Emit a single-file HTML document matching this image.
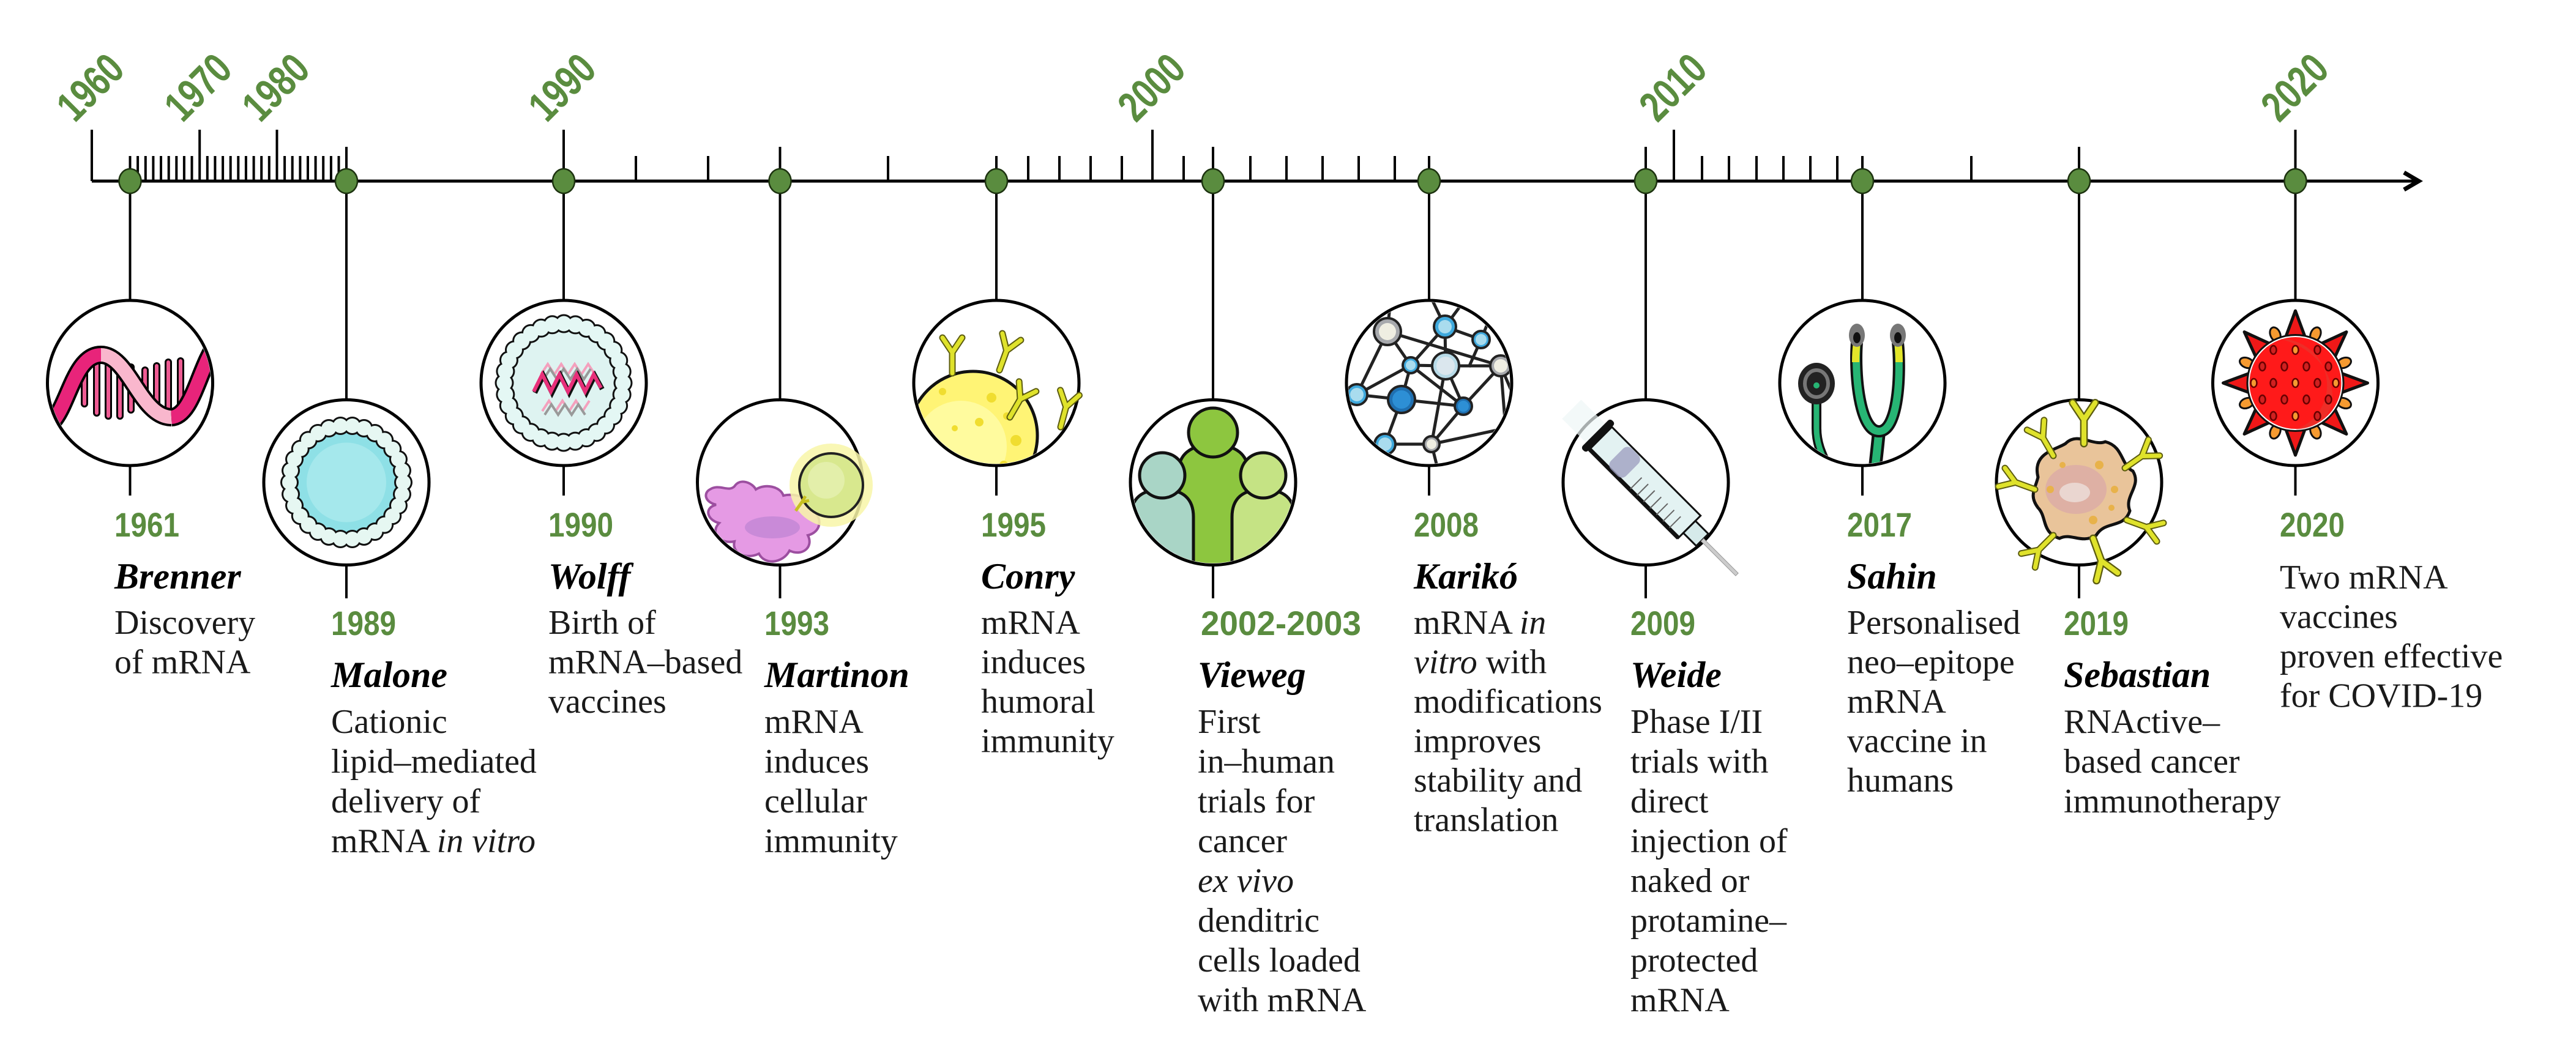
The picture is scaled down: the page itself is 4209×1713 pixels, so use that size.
<!DOCTYPE html>
<html><head><meta charset="utf-8"><style>
html,body{margin:0;padding:0;background:#fff;}
svg{display:block;}
.yr{font-family:"Liberation Sans Narrow","Liberation Sans",sans-serif;font-weight:bold;font-size:56px;fill:#5a8c3f;}
.yr2{font-family:"Liberation Sans Narrow","Liberation Sans",sans-serif;font-weight:bold;font-size:70px;fill:#5a8c3f;}
.nm{font-family:"Liberation Serif",serif;font-weight:bold;font-style:italic;font-size:60px;fill:#000;}
.bd{font-family:"Liberation Serif",serif;font-size:56px;fill:#1a1a1a;}
</style></head><body>
<svg width="4209" height="1713" viewBox="0 0 4209 1713" xmlns="http://www.w3.org/2000/svg">
<defs>
<clipPath id="c0"><circle cx="212.5" cy="626" r="132"/></clipPath>
<clipPath id="c1"><circle cx="566" cy="788.5" r="132"/></clipPath>
<clipPath id="c2"><circle cx="921" cy="626" r="132"/></clipPath>
<clipPath id="c3"><circle cx="1274.5" cy="788.5" r="132"/></clipPath>
<clipPath id="c4"><circle cx="1628" cy="626" r="132"/></clipPath>
<clipPath id="c5"><circle cx="1982" cy="788.5" r="132"/></clipPath>
<clipPath id="c6"><circle cx="2335" cy="626" r="132"/></clipPath>
<clipPath id="c8"><circle cx="3043" cy="626" r="132"/></clipPath>
<clipPath id="c9"><circle cx="3397" cy="788.5" r="132"/></clipPath>
<clipPath id="c10"><circle cx="3750.5" cy="626" r="132"/></clipPath>
<g id="ab">
<path d="M0,0 V-34 L-16,-58 M0,-34 L16,-58" fill="none" stroke="#5c5c10" stroke-width="11" stroke-linecap="round"/>
<path d="M0,0 V-34 L-16,-58 M0,-34 L16,-58" fill="none" stroke="#dfe22b" stroke-width="7" stroke-linecap="round"/>
</g>
</defs>

<!-- axis -->
<line x1="150" y1="296" x2="3950" y2="296" stroke="#000" stroke-width="5"/>
<path d="M3928,282 L3952,296 L3928,310" fill="none" stroke="#000" stroke-width="7"/>
<g stroke="#000" stroke-width="4">
<path d="M150,212V296 M326.2,212V296 M452.5,212V296 M921,212V296 M1883,212V296 M2735,212V296 M3750.5,212V296"/>
<path d="M566,240V296 M1274.5,240V296 M1982,240V296 M2689,240V296 M3397,240V296"/>
<path d="M212.5,255V296 M225.1,255V296 M237.8,255V296 M250.4,255V296 M263,255V296 M275.7,255V296 M288.3,255V296 M300.9,255V296 M313.5,255V296 M338.8,255V296 M351.4,255V296 M364.1,255V296 M376.7,255V296 M389.3,255V296 M401.9,255V296 M414.6,255V296 M427.2,255V296 M439.8,255V296 M465.1,255V296 M477.7,255V296 M490.4,255V296 M503,255V296 M515.6,255V296 M528.2,255V296 M540.9,255V296 M553.5,255V296
M1039,255V296 M1157,255V296 M1451,255V296 M1628,255V296 M1680,255V296 M1731,255V296 M1782,255V296 M1833,255V296 M1934,255V296
M2043,255V296 M2102,255V296 M2161,255V296 M2220,255V296 M2279,255V296 M2335,255V296
M2781,255V296 M2825,255V296 M2870,255V296 M2914,255V296 M2958,255V296 M3002,255V296 M3043,255V296 M3221,255V296"/>
</g>
<!-- rotated year labels -->
<g class="yr2">
<text transform="translate(122,202) rotate(-45)" textLength="120" lengthAdjust="spacingAndGlyphs">1960</text>
<text transform="translate(298,202) rotate(-45)" textLength="120" lengthAdjust="spacingAndGlyphs">1970</text>
<text transform="translate(425,202) rotate(-45)" textLength="120" lengthAdjust="spacingAndGlyphs">1980</text>
<text transform="translate(893,202) rotate(-45)" textLength="120" lengthAdjust="spacingAndGlyphs">1990</text>
<text transform="translate(1856,202) rotate(-45)" textLength="120" lengthAdjust="spacingAndGlyphs">2000</text>
<text transform="translate(2708,202) rotate(-45)" textLength="120" lengthAdjust="spacingAndGlyphs">2010</text>
<text transform="translate(3724,202) rotate(-45)" textLength="120" lengthAdjust="spacingAndGlyphs">2020</text>
</g>

<!-- connectors -->
<g stroke="#000" stroke-width="4">
<path d="M212.5,296V491 M212.5,762V810 M921,296V491 M921,762V810 M1628,296V491 M1628,762V810 M2335,296V491 M2335,762V810 M3043,296V491 M3043,762V810 M3750.5,296V491 M3750.5,762V810"/>
<path d="M566,296V653 M566,924V978 M1274.5,296V653 M1274.5,924V978 M1982,296V653 M1982,924V978 M2689,296V653 M2689,924V978 M3397,296V653 M3397,924V978"/>
</g>
<!-- dots -->
<g fill="#5a8c3f" stroke="#1d3310" stroke-width="2.5">
<ellipse cx="212.5" cy="296" rx="18" ry="20"/><ellipse cx="566" cy="296" rx="18" ry="20"/><ellipse cx="921" cy="296" rx="18" ry="20"/><ellipse cx="1274.5" cy="296" rx="18" ry="20"/><ellipse cx="1628" cy="296" rx="18" ry="20"/><ellipse cx="1982" cy="296" rx="18" ry="20"/><ellipse cx="2335" cy="296" rx="18" ry="20"/><ellipse cx="2689" cy="296" rx="18" ry="20"/><ellipse cx="3043" cy="296" rx="18" ry="20"/><ellipse cx="3397" cy="296" rx="18" ry="20"/><ellipse cx="3750.5" cy="296" rx="18" ry="20"/>
</g>

<!-- circles -->
<g fill="#fff" stroke="#000" stroke-width="5">
<circle cx="212.5" cy="626" r="135"/><circle cx="921" cy="626" r="135"/><circle cx="1628" cy="626" r="135"/><circle cx="2335" cy="626" r="135"/><circle cx="3043" cy="626" r="135"/><circle cx="3750.5" cy="626" r="135"/>
<circle cx="566" cy="788.5" r="135"/><circle cx="1274.5" cy="788.5" r="135"/><circle cx="1982" cy="788.5" r="135"/><circle cx="2689" cy="788.5" r="135"/><circle cx="3397" cy="788.5" r="135"/>
</g>

<!-- 1961 RNA -->
<g clip-path="url(#c0)">
<g stroke-linecap="round">
<path d="M138,590V660 M158,585V675 M177,585V680 M196,590V680 M214,600V670 M237,605V665 M256,598V672 M275,592V666 M295,590V660" stroke="#000" stroke-width="12"/>
<path d="M138,590V660 M158,585V675 M177,585V680 M196,590V680 M214,600V670 M237,605V665 M256,598V672 M275,592V666 M295,590V660" stroke="#ee5b93" stroke-width="6"/>
</g>
<path d="M70,700 C110,690 115,580 165,580" fill="none" stroke="#000" stroke-width="30"/>
<path d="M70,700 C110,690 115,580 165,580" fill="none" stroke="#e8247a" stroke-width="22"/>
<path d="M165,580 C210,580 230,682 280,682" fill="none" stroke="#000" stroke-width="30"/>
<path d="M165,580 C210,580 230,682 280,682" fill="none" stroke="#f9b7cd" stroke-width="22"/>
<path d="M280,682 C315,680 325,600 355,560" fill="none" stroke="#000" stroke-width="30"/>
<path d="M280,682 C315,680 325,600 355,560" fill="none" stroke="#e8247a" stroke-width="22"/>
</g>

<!-- 1989 LNP -->
<g clip-path="url(#c1)">
<circle cx="566" cy="788.5" r="90" fill="#8ee0e6"/>
<circle cx="566" cy="788.5" r="65" fill="#a5e8ec"/>
<circle cx="566" cy="788.5" r="93" fill="none" stroke="#111" stroke-width="30" stroke-dasharray="0 19.47" stroke-linecap="round"/>
<circle cx="566" cy="788.5" r="93" fill="none" stroke="#e6f7f2" stroke-width="24" stroke-dasharray="0 19.47" stroke-linecap="round"/>
</g>

<!-- 1990 liposome -->
<g clip-path="url(#c2)">
<circle cx="921" cy="626" r="96" fill="#def3f1"/>
<circle cx="921" cy="626" r="97" fill="none" stroke="#111" stroke-width="31" stroke-dasharray="0 19.05" stroke-linecap="round"/>
<circle cx="921" cy="626" r="97" fill="none" stroke="#e4f7f4" stroke-width="25" stroke-dasharray="0 19.05" stroke-linecap="round"/>
<path d="M884,612 l11,-17 l11,17 l11,-17 l11,17 l11,-17 l11,17 l11,-17 l11,17" fill="none" stroke="#f4a0bd" stroke-width="4"/>
<path d="M888,620 l11,-17 l11,17 l11,-17 l11,17 l11,-17 l11,17 l11,-17" fill="none" stroke="#999" stroke-width="4"/>
<path d="M874,642 l14,-28 l14,28 l14,-28 l14,28 l14,-28 l14,28 l14,-28 l12,22" fill="none" stroke="#111" stroke-width="8"/>
<path d="M872,640 l14,-28 l14,28 l14,-28 l14,28 l14,-28 l14,28 l14,-28 l12,22" fill="none" stroke="#e8307a" stroke-width="6"/>
<path d="M886,672 l11,-17 l11,17 l11,-17 l11,17 l11,-17 l11,17 l11,-17" fill="none" stroke="#f4a0bd" stroke-width="4"/>
<path d="M890,678 l11,-17 l11,17 l11,-17 l11,17 l11,-17 l11,17" fill="none" stroke="#999" stroke-width="4"/>
</g>

<!-- 1993 cells -->
<g clip-path="url(#c3)">
<path d="M1160,800 C1175,790 1190,805 1200,795 C1210,780 1230,790 1235,800 C1250,790 1275,795 1280,810 C1300,805 1330,815 1330,835 C1345,850 1340,870 1320,875 C1330,895 1310,910 1290,900 C1280,920 1250,925 1240,905 C1220,915 1195,905 1200,885 C1175,890 1160,870 1175,855 C1155,850 1150,830 1170,825 C1150,820 1150,805 1160,800 Z" fill="#e59ae4" stroke="#9c4fa0" stroke-width="4"/>
<ellipse cx="1262" cy="862" rx="45" ry="18" fill="#c98ad8"/>
</g>
<circle cx="1358" cy="793" r="68" fill="#f8f6a8" opacity="0.85"/>
<circle cx="1358" cy="793" r="52" fill="#d8e88e" stroke="#222" stroke-width="4"/>
<circle cx="1350" cy="785" r="30" fill="#e3efaa"/>
<path d="M1300,835 l10,-14 M1310,821 l6,-10 M1310,821 l12,-3" stroke="#c8c020" stroke-width="5" fill="none"/>

<!-- 1995 B cell -->
<g clip-path="url(#c4)">
<circle cx="1590" cy="712" r="105" fill="#fff475" stroke="#111" stroke-width="5"/>
<circle cx="1570" cy="730" r="75" fill="#fffb9e"/>
<g fill="#f0dd30"><circle cx="1620" cy="650" r="8"/><circle cx="1645" cy="680" r="6"/><circle cx="1600" cy="690" r="7"/><circle cx="1660" cy="720" r="9"/><circle cx="1540" cy="640" r="6"/><circle cx="1560" cy="700" r="5"/><circle cx="1640" cy="760" r="7"/></g>
</g>
<use href="#ab" transform="translate(1556,610)"/>
<use href="#ab" transform="translate(1633,605) rotate(20)"/>
<use href="#ab" transform="translate(1650,682) rotate(30)"/>
<use href="#ab" transform="translate(1733,698) rotate(15)"/>

<!-- 2002 people -->
<g clip-path="url(#c5)" stroke="#111" stroke-width="5">
<path d="M1925,960 V775 Q1925,727 1982,727 Q2040,727 2040,775 V960 Z" fill="#8dc63f"/>
<circle cx="1982" cy="707" r="40" fill="#8dc63f"/>
<path d="M1848,960 V845 Q1848,800 1899,800 Q1950,800 1950,845 V960 Z" fill="#a9d5c6"/>
<circle cx="1899" cy="777" r="37" fill="#a9d5c6"/>
<path d="M2013,960 V845 Q2013,800 2064,800 Q2115,800 2115,845 V960 Z" fill="#c5e384"/>
<circle cx="2064" cy="777" r="37" fill="#c5e384"/>
</g>

<!-- 2008 network -->
<g clip-path="url(#c6)">
<g stroke="#222" stroke-width="5">
<path d="M2267,542 L2452,598 M2267,542 L2217,645 M2267,542 L2305,597 M2361,534 L2305,597 M2361,534 L2362,598 M2361,534 L2420,555 M2305,597 L2362,598 M2362,598 L2452,598 M2305,597 L2290,653 M2217,645 L2290,653 M2290,653 L2391,664 M2290,653 L2263,726 M2362,598 L2391,664 M2362,598 L2339,726 M2391,664 L2339,726 M2452,598 L2391,664 M2452,598 L2460,700 M2339,726 L2460,700 M2263,726 L2339,726 M2217,645 L2305,597 M2267,542 L2272,490 M2361,534 L2340,490 M2361,534 L2390,495 M2420,555 L2440,505 M2452,598 L2470,640 M2263,726 L2250,770 M2339,726 L2350,770 M2305,597 L2391,664 M2420,555 L2400,600"/>
</g>
<g stroke="#222" stroke-width="4">
<circle cx="2267" cy="542" r="22" fill="#a7a9ad"/><circle cx="2267" cy="542" r="14" fill="#efeee2" stroke="none"/>
<circle cx="2361" cy="534" r="18" fill="#3fa9dd"/><circle cx="2361" cy="534" r="11" fill="#a9dcee" stroke="none"/>
<circle cx="2420" cy="555" r="14" fill="#3fa9dd"/><circle cx="2420" cy="555" r="9" fill="#a9dcee" stroke="none"/>
<circle cx="2305" cy="597" r="13" fill="#3fa9dd"/><circle cx="2305" cy="597" r="8" fill="#a9dcee" stroke="none"/>
<circle cx="2362" cy="598" r="22" fill="#b8dbe8"/><circle cx="2362" cy="598" r="15" fill="#dbe7ee" stroke="none"/>
<circle cx="2452" cy="598" r="17" fill="#a7a9ad"/><circle cx="2452" cy="598" r="11" fill="#efeee2" stroke="none"/>
<circle cx="2217" cy="645" r="17" fill="#3fa9dd"/><circle cx="2217" cy="645" r="11" fill="#a9dcee" stroke="none"/>
<circle cx="2290" cy="653" r="22" fill="#1f6fb0"/><circle cx="2290" cy="653" r="15" fill="#2d8fd5" stroke="none"/>
<circle cx="2391" cy="664" r="14" fill="#1f6fb0"/><circle cx="2391" cy="664" r="9" fill="#2d8fd5" stroke="none"/>
<circle cx="2263" cy="726" r="17" fill="#3fa9dd"/><circle cx="2263" cy="726" r="11" fill="#a9dcee" stroke="none"/>
<circle cx="2339" cy="726" r="13" fill="#a7a9ad"/><circle cx="2339" cy="726" r="8" fill="#efeee2" stroke="none"/>
<circle cx="2462" cy="700" r="12" fill="#1f6fb0"/>
</g>
</g>

<!-- 2009 syringe -->
<g transform="translate(2575,676) rotate(45)">
<rect x="-10" y="-22" width="60" height="44" fill="#eef6f6" opacity="0.7"/>
<rect x="45" y="-34" width="12" height="68" rx="5" fill="#111"/>
<rect x="57" y="-26" width="205" height="52" fill="#e3f2f2" stroke="#111" stroke-width="3"/>
<rect x="57" y="22" width="205" height="7" fill="#111"/>
<rect x="95" y="-24" width="35" height="48" rx="10" fill="#9fa0c0" opacity="0.8"/>
<g stroke="#666" stroke-width="2"><path d="M150,-2V24 M165,-2V24 M180,-2V24 M195,-2V24 M210,-2V24 M225,-2V24 M240,-2V24"/></g>
<rect x="262" y="-14" width="30" height="28" fill="#d6eaea" stroke="#111" stroke-width="3"/>
<rect x="292" y="-3" width="80" height="6" fill="#ccc" stroke="#999" stroke-width="1"/>
</g>

<!-- 2017 stethoscope -->
<g clip-path="url(#c8)">
<path d="M3070,705 C3068,730 3064,760 3060,800" fill="none" stroke="#111" stroke-width="22"/>
<path d="M3070,705 C3068,730 3064,760 3060,800" fill="none" stroke="#27b574" stroke-width="13"/>
<path d="M2968,633 V700 C2968,740 2990,760 3000,800" fill="none" stroke="#111" stroke-width="16"/>
<path d="M2968,633 V700 C2968,740 2990,760 3000,800" fill="none" stroke="#27b574" stroke-width="9"/>
<path d="M3034,560 C3030,610 3038,705 3070,705 C3102,705 3106,610 3101,560" fill="none" stroke="#111" stroke-width="20"/>
<path d="M3034,560 C3030,610 3038,705 3070,705 C3102,705 3106,610 3101,560" fill="none" stroke="#27b574" stroke-width="12"/>
<path d="M3034,560 C3032,575 3032,585 3032,592 M3101,560 C3103,575 3103,585 3103,592" fill="none" stroke="#e3e62a" stroke-width="12"/>
<ellipse cx="3034" cy="548" rx="13" ry="19" fill="#777"/><ellipse cx="3034" cy="552" rx="6" ry="9" fill="#111"/>
<ellipse cx="3101" cy="548" rx="13" ry="19" fill="#777"/><ellipse cx="3101" cy="552" rx="6" ry="9" fill="#111"/>
<ellipse cx="2968" cy="627" rx="30" ry="34" fill="#222"/>
<ellipse cx="2968" cy="627" rx="19" ry="22" fill="none" stroke="#777" stroke-width="6"/>
<circle cx="2968" cy="630" r="5" fill="#27b574"/>
</g>

<!-- 2019 cancer cell -->
<g clip-path="url(#c9)">
<path d="M3330,780 C3320,740 3360,735 3375,725 C3395,705 3420,730 3440,722 C3470,730 3465,760 3485,770 C3500,795 3470,810 3480,835 C3470,865 3440,850 3425,875 C3400,890 3385,870 3365,880 C3335,870 3345,845 3330,830 C3315,810 3325,800 3330,780 Z" fill="#e9c49a" stroke="#111" stroke-width="5"/>
<ellipse cx="3392" cy="800" rx="50" ry="40" fill="#d9a8a8" opacity="0.7"/>
<ellipse cx="3390" cy="805" rx="25" ry="16" fill="#ead6d0"/>
<g fill="#e8b24a"><circle cx="3430" cy="760" r="7"/><circle cx="3455" cy="800" r="6"/><circle cx="3350" cy="800" r="6"/><circle cx="3420" cy="850" r="7"/><circle cx="3370" cy="760" r="5"/><circle cx="3450" cy="830" r="5"/></g>
</g>
<use href="#ab" transform="translate(3405,725) scale(1.15)"/>
<use href="#ab" transform="translate(3355,745) rotate(-30)"/>
<use href="#ab" transform="translate(3472,765) rotate(55)"/>
<use href="#ab" transform="translate(3325,800) rotate(-70)"/>
<use href="#ab" transform="translate(3475,850) rotate(110)"/>
<use href="#ab" transform="translate(3420,880) rotate(160) scale(1.15)"/>
<use href="#ab" transform="translate(3355,875) rotate(-135)"/>

<!-- 2020 virus -->
<g transform="translate(3750.5,626)">
<g fill="#f01818" stroke="#111" stroke-width="5" stroke-linejoin="round">
<path d="M-17,-72 L0,-118 L17,-72 Z"/>
<path d="M-17,-72 L0,-118 L17,-72 Z" transform="rotate(45)"/>
<path d="M-17,-72 L0,-118 L17,-72 Z" transform="rotate(90)"/>
<path d="M-17,-72 L0,-118 L17,-72 Z" transform="rotate(135)"/>
<path d="M-17,-72 L0,-118 L17,-72 Z" transform="rotate(180)"/>
<path d="M-17,-72 L0,-118 L17,-72 Z" transform="rotate(225)"/>
<path d="M-17,-72 L0,-118 L17,-72 Z" transform="rotate(270)"/>
<path d="M-17,-72 L0,-118 L17,-72 Z" transform="rotate(315)"/>
</g>
<g fill="#f59a30" stroke="#111" stroke-width="3">
<ellipse cx="0" cy="-86" rx="8" ry="12" transform="rotate(22.5)"/><ellipse cx="0" cy="-86" rx="8" ry="12" transform="rotate(67.5)"/><ellipse cx="0" cy="-86" rx="8" ry="12" transform="rotate(112.5)"/><ellipse cx="0" cy="-86" rx="8" ry="12" transform="rotate(157.5)"/><ellipse cx="0" cy="-86" rx="8" ry="12" transform="rotate(202.5)"/><ellipse cx="0" cy="-86" rx="8" ry="12" transform="rotate(247.5)"/><ellipse cx="0" cy="-86" rx="8" ry="12" transform="rotate(292.5)"/><ellipse cx="0" cy="-86" rx="8" ry="12" transform="rotate(337.5)"/>
</g>
<circle r="80" fill="#111"/>
<circle r="76" fill="#ff1a1a" stroke="#fff" stroke-width="2"/>
<path d="M-25,-72 C25,-60 65,-20 60,30 C55,60 30,75 0,76 A76,76 0 0 0 -25,-72 Z" fill="#e33a30" opacity="0.6"/>
<g stroke="#6a0000" stroke-width="2.5" fill="#d02020">
<ellipse cx="-36" cy="-54" rx="5" ry="7"/><ellipse cx="0" cy="-54" rx="5" ry="7" fill="#f59a30"/><ellipse cx="36" cy="-54" rx="5" ry="7"/>
<ellipse cx="-54" cy="-27" rx="5" ry="7"/><ellipse cx="-18" cy="-27" rx="5" ry="7"/><ellipse cx="18" cy="-27" rx="5" ry="7"/><ellipse cx="54" cy="-27" rx="5" ry="7"/>
<ellipse cx="-68" cy="0" rx="5" ry="7" fill="#f59a30"/><ellipse cx="-36" cy="0" rx="5" ry="7"/><ellipse cx="0" cy="0" rx="5" ry="7" fill="#f59a30"/><ellipse cx="36" cy="0" rx="5" ry="7"/><ellipse cx="66" cy="0" rx="5" ry="7" fill="#f59a30"/>
<ellipse cx="-54" cy="27" rx="5" ry="7"/><ellipse cx="-18" cy="27" rx="5" ry="7"/><ellipse cx="18" cy="27" rx="5" ry="7"/><ellipse cx="54" cy="27" rx="5" ry="7"/>
<ellipse cx="-36" cy="54" rx="5" ry="7"/><ellipse cx="0" cy="54" rx="5" ry="7" fill="#f59a30"/><ellipse cx="36" cy="54" rx="5" ry="7"/>
</g>
</g>

<!-- TEXT -->
<g class="yr">
<text x="187" y="877" textLength="106" lengthAdjust="spacingAndGlyphs">1961</text>
<text x="896" y="877" textLength="106" lengthAdjust="spacingAndGlyphs">1990</text>
<text x="1603" y="877" textLength="106" lengthAdjust="spacingAndGlyphs">1995</text>
<text x="2310" y="877" textLength="106" lengthAdjust="spacingAndGlyphs">2008</text>
<text x="3018" y="877" textLength="106" lengthAdjust="spacingAndGlyphs">2017</text>
<text x="3725" y="877" textLength="106" lengthAdjust="spacingAndGlyphs">2020</text>
<text x="541" y="1038" textLength="106" lengthAdjust="spacingAndGlyphs">1989</text>
<text x="1249" y="1038" textLength="106" lengthAdjust="spacingAndGlyphs">1993</text>
<text x="1962" y="1038" textLength="262" lengthAdjust="spacingAndGlyphs">2002-2003</text>
<text x="2664" y="1038" textLength="106" lengthAdjust="spacingAndGlyphs">2009</text>
<text x="3372" y="1038" textLength="106" lengthAdjust="spacingAndGlyphs">2019</text>
</g>
<g class="nm">
<text x="187" y="962">Brenner</text>
<text x="896" y="962">Wolff</text>
<text x="1603" y="962">Conry</text>
<text x="2310" y="962">Karikó</text>
<text x="3018" y="962">Sahin</text>
<text x="541" y="1123">Malone</text>
<text x="1249" y="1123">Martinon</text>
<text x="1957" y="1123">Vieweg</text>
<text x="2664" y="1123">Weide</text>
<text x="3372" y="1123">Sebastian</text>
</g>
<g class="bd">
<text x="187" y="1036">Discovery</text><text x="187" y="1100.5">of mRNA</text>
<text x="896" y="1036">Birth of</text><text x="896" y="1100.5">mRNA–based</text><text x="896" y="1165">vaccines</text>
<text x="1603" y="1036">mRNA</text><text x="1603" y="1100.5">induces</text><text x="1603" y="1165">humoral</text><text x="1603" y="1229.5">immunity</text>
<text x="2310" y="1036">mRNA <tspan font-style="italic">in</tspan></text><text x="2310" y="1100.5"><tspan font-style="italic">vitro</tspan> with</text><text x="2310" y="1165">modifications</text><text x="2310" y="1229.5">improves</text><text x="2310" y="1294">stability and</text><text x="2310" y="1358.5">translation</text>
<text x="3018" y="1036">Personalised</text><text x="3018" y="1100.5">neo–epitope</text><text x="3018" y="1165">mRNA</text><text x="3018" y="1229.5">vaccine in</text><text x="3018" y="1294">humans</text>
<text x="3725" y="962">Two mRNA</text><text x="3725" y="1026.5">vaccines</text><text x="3725" y="1091">proven effective</text><text x="3725" y="1155.5">for COVID-19</text>

<text x="541" y="1198">Cationic</text><text x="541" y="1263">lipid–mediated</text><text x="541" y="1328">delivery of</text><text x="541" y="1393">mRNA <tspan font-style="italic">in vitro</tspan></text>
<text x="1249" y="1198">mRNA</text><text x="1249" y="1263">induces</text><text x="1249" y="1328">cellular</text><text x="1249" y="1393">immunity</text>
<text x="1957" y="1198">First</text><text x="1957" y="1263">in–human</text><text x="1957" y="1328">trials for</text><text x="1957" y="1393">cancer</text><text x="1957" y="1458" font-style="italic">ex vivo</text><text x="1957" y="1523">denditric</text><text x="1957" y="1588">cells loaded</text><text x="1957" y="1653">with mRNA</text>
<text x="2664" y="1198">Phase I/II</text><text x="2664" y="1263">trials with</text><text x="2664" y="1328">direct</text><text x="2664" y="1393">injection of</text><text x="2664" y="1458">naked or</text><text x="2664" y="1523">protamine–</text><text x="2664" y="1588">protected</text><text x="2664" y="1653">mRNA</text>
<text x="3372" y="1198">RNActive–</text><text x="3372" y="1263">based cancer</text><text x="3372" y="1328">immunotherapy</text>
</g>
</svg>
</body></html>
